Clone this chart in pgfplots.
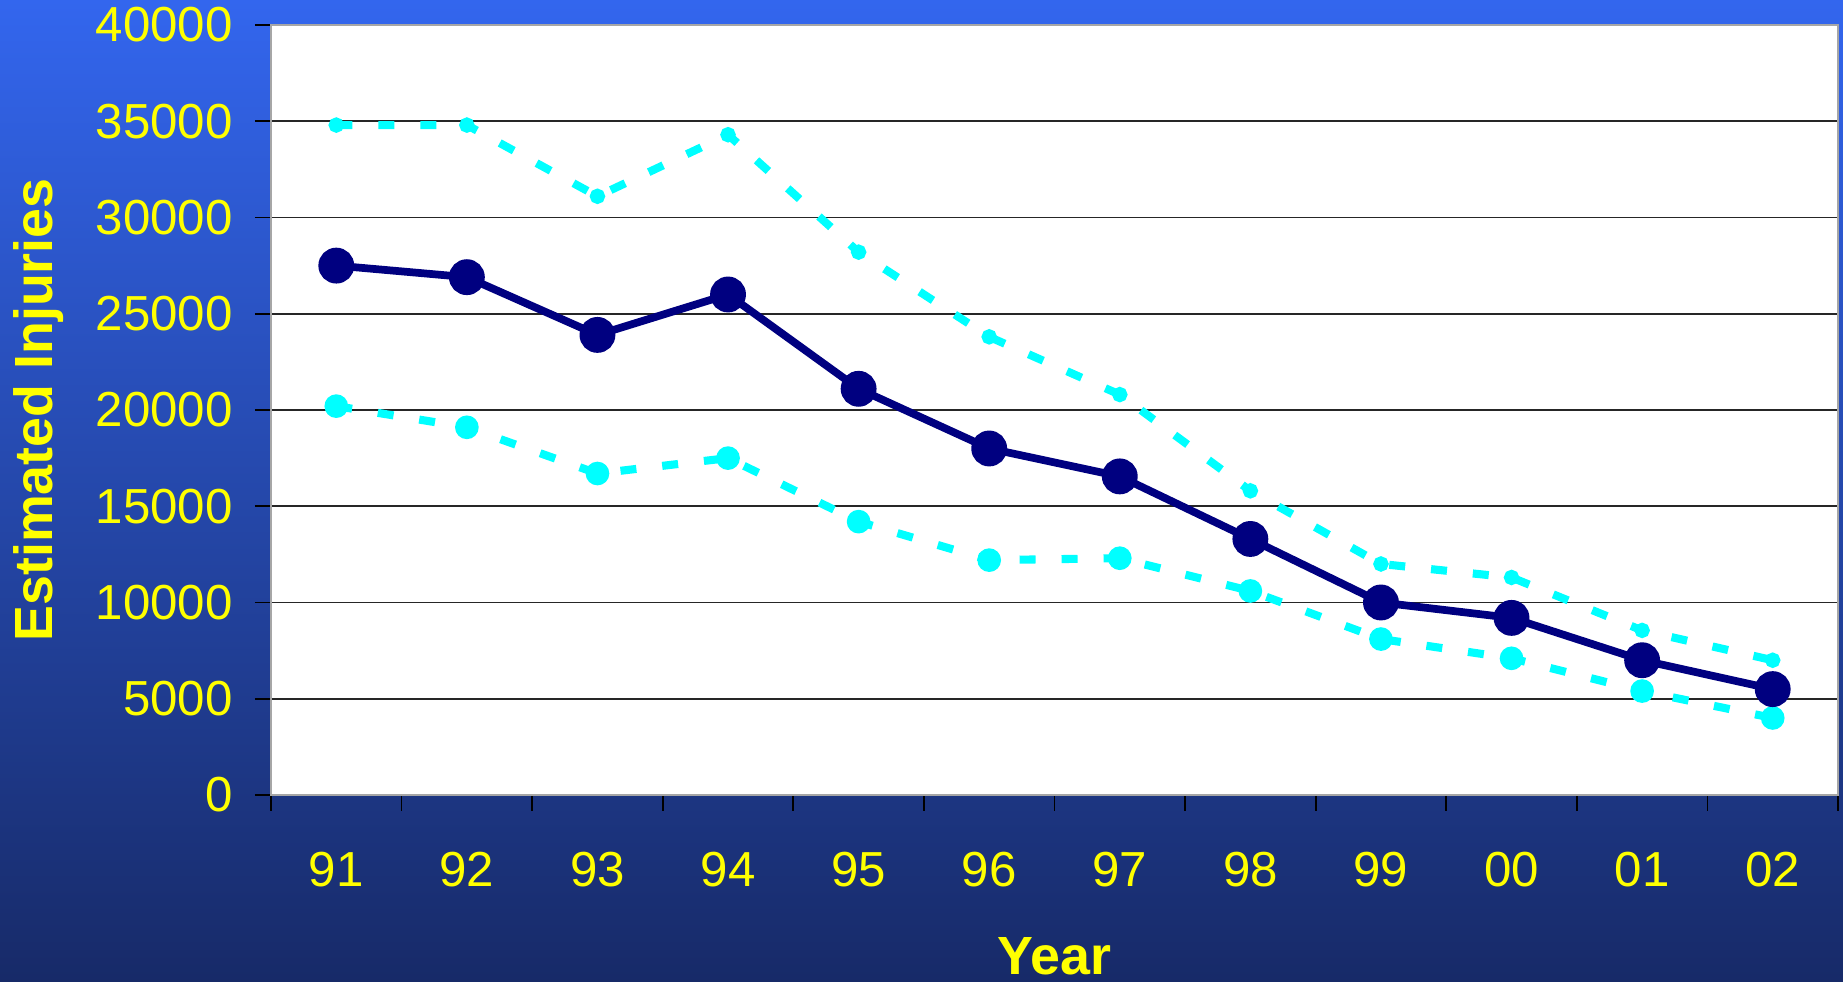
\documentclass[border=0pt]{standalone}
\usepackage{fontspec}
\setmainfont{Liberation Sans}
\usepackage{pgfplots}
\pgfplotsset{compat=1.18}

\definecolor{bgtop}{RGB}{51,102,238}
\definecolor{bgbot}{RGB}{23,42,104}
\definecolor{ylw}{RGB}{255,255,0}
\definecolor{navyline}{RGB}{0,0,128}
\definecolor{cyanline}{RGB}{0,255,255}

\begin{document}
\begin{tikzpicture}
% slide background
\shade[top color=bgtop, bottom color=bgbot] (0,0) rectangle (184.3mm,98.2mm);
\begin{axis}[
  at={(27.1mm,18.7mm)}, anchor=south west,
  scale only axis,
  width=156.7mm, height=77mm,
  xmin=-0.5, xmax=11.5,
  ymin=0, ymax=40000,
  axis background/.style={fill=white},
  axis line style={gray!70, line width=0.6pt},
  xtick={0,...,11},
  xticklabels={91,92,93,94,95,96,97,98,99,00,01,02},
  minor xtick={-0.5,0.5,...,11.5},
  major x tick style={draw=none},
  minor x tick style={black, line width=0.5pt},
  ytick={0,5000,...,40000},
  scaled y ticks=false,
  y tick style={black, line width=0.5pt},
  tick pos=left,
  tick align=outside,
  major tick length=1.6mm,
  minor tick length=1.6mm,
  ymajorgrids,
  major y grid style={black!85, line width=0.5pt},
  /pgf/number format/1000 sep={},
  /pgf/number format/assume math mode=true,
  tick label style={text=ylw, font=\fontsize{14}{17}\selectfont},
  xticklabel style={anchor=center, yshift=-5.9mm},
  yticklabel style={xshift=-1mm},
  xlabel={Year},
  ylabel={Estimated Injuries},
  label style={text=ylw, font=\bfseries\fontsize{15.3}{18}\selectfont},
  xlabel style={at={(axis description cs:0.5,-0.209)}, anchor=center},
  ylabel style={at={(axis description cs:-0.148,0.5)}, anchor=center},
]

% upper bound
\addplot[cyanline, line width=2.3pt, dash pattern=on 1.6mm off 2.6mm,
  mark=*, mark size=1pt, mark options={solid}]
coordinates {
  (0,34800) (1,34800) (2,31100) (3,34300) (4,28200) (5,23800)
  (6,20800) (7,15800) (8,12000) (9,11300) (10,8550) (11,7000)
};

% lower bound
\addplot[cyanline, line width=2.3pt, dash pattern=on 1.6mm off 2.6mm,
  mark=*, mark size=2.2pt, mark options={solid}]
coordinates {
  (0,20200) (1,19100) (2,16700) (3,17500) (4,14200) (5,12200)
  (6,12300) (7,10600) (8,8100) (9,7100) (10,5400) (11,4000)
};

% estimate
\addplot[navyline, line width=2.2pt, mark=*, mark size=4pt]
coordinates {
  (0,27500) (1,26900) (2,23900) (3,26000) (4,21100) (5,18000)
  (6,16550) (7,13300) (8,10000) (9,9200) (10,7000) (11,5500)
};

\end{axis}
\pgfresetboundingbox
\path (0,0) rectangle (184.3mm,98.2mm);
\end{tikzpicture}
\end{document}
